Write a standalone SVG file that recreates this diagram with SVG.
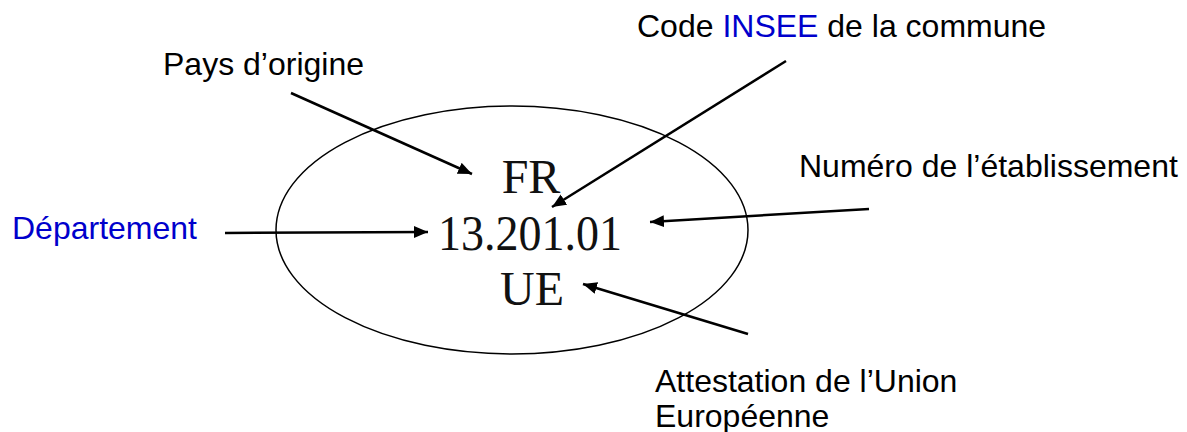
<svg xmlns="http://www.w3.org/2000/svg" width="1187" height="432" viewBox="0 0 1187 432">
  <style>
    .label { font-family: "Liberation Sans", Arial, sans-serif; font-size: 32px; fill: #000; }
    .blue { fill: #0000CC; }
    .stamp { font-family: "Liberation Serif", "Times New Roman", serif; fill: #111; text-anchor: middle; }
    .arrow { stroke: #000; stroke-width: 2.5; fill: none; marker-end: url(#head); }
  </style>
  <defs>
    <marker id="head" markerUnits="userSpaceOnUse" markerWidth="16" markerHeight="14" refX="14" refY="6" orient="auto">
      <path d="M0,0 L14,6 L0,12 Z" fill="#000"/>
    </marker>
  </defs>
  <rect width="1187" height="432" fill="#fff"/>

  <!-- oval stamp with its three lines -->
  <g id="stamp">
    <ellipse cx="512" cy="230" rx="236" ry="124" fill="none" stroke="#000" stroke-width="1.5"/>
    <text class="stamp" x="531" y="193" font-size="48">FR</text>
    <text class="stamp" x="530" y="250" font-size="50" textLength="184" lengthAdjust="spacingAndGlyphs">13.201.01</text>
    <text class="stamp" x="532" y="305" font-size="48">UE</text>
  </g>

  <g id="pays">
    <text class="label" x="163" y="75">Pays d’origine</text>
  </g>
  <g id="insee">
    <text class="label" x="637" y="37">Code <tspan class="blue">INSEE</tspan> de la commune</text>
  </g>
  <g id="etablissement">
    <text class="label" x="799" y="177">Numéro de l’établissement</text>
  </g>
  <g id="departement">
    <text class="label blue" x="12" y="239">Département</text>
  </g>
  <g id="union">
    <text class="label" x="655" y="392">Attestation de l’Union</text>
    <text class="label" x="655" y="427">Européenne</text>
  </g>

  <g id="connectors">
    <line class="arrow" x1="291" y1="93" x2="472" y2="174"/>
    <line class="arrow" x1="786" y1="61" x2="552" y2="207"/>
    <line class="arrow" x1="869" y1="209" x2="650" y2="222"/>
    <line class="arrow" x1="225" y1="233" x2="428" y2="232"/>
    <line class="arrow" x1="748" y1="334" x2="583" y2="284"/>
  </g>
</svg>
